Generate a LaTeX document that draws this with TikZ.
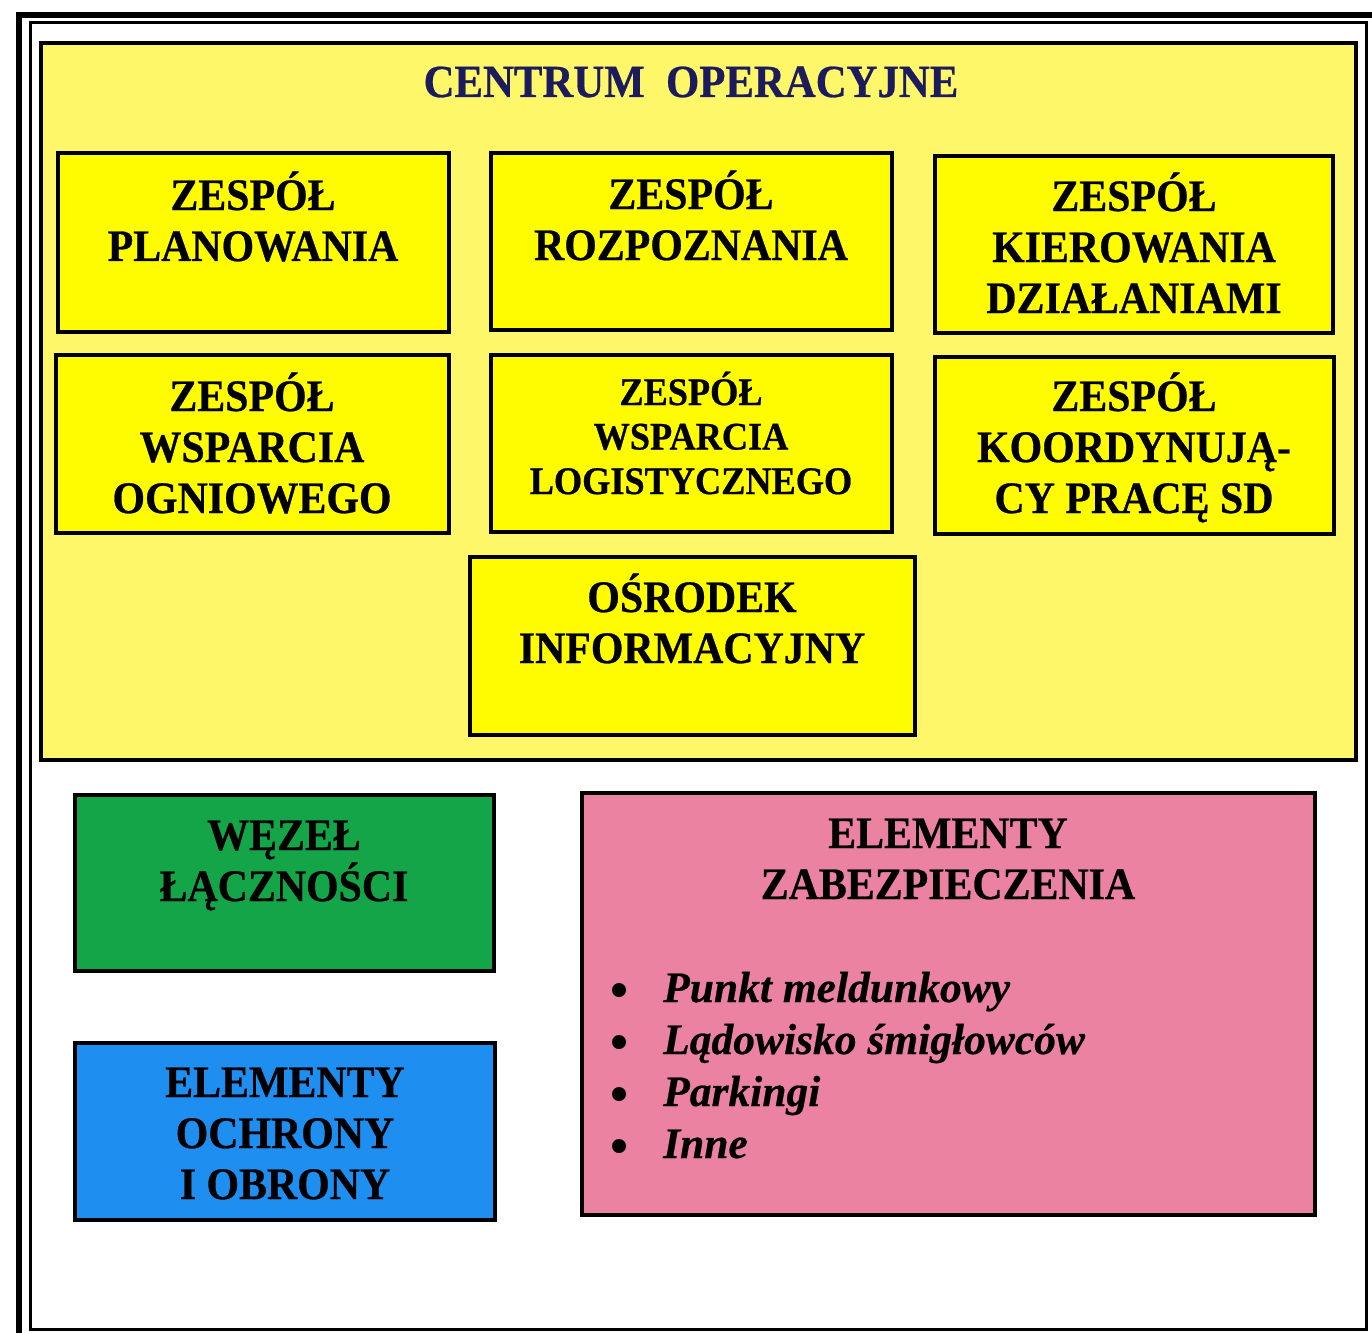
\documentclass[tikz,border=0pt]{standalone}
\usepackage{fontspec}
\setmainfont{Liberation Serif}
\newfontfamily\boxfont{Liberation Serif}[FakeStretch=0.93, FakeBold=0.6]
\newfontfamily\itemfont{Liberation Serif}[FakeBold=0.5]
\definecolor{paleyellow}{HTML}{FFF76A}
\definecolor{boxyellow}{HTML}{FFFC00}
\definecolor{linkgreen}{HTML}{14A548}
\definecolor{guardblue}{HTML}{1E8EF0}
\definecolor{securepink}{HTML}{EB82A2}
\definecolor{titlenavy}{HTML}{1B1B5E}
\begin{document}
\begin{tikzpicture}[x=1pt,y=-1pt,
  unitbox/.style={draw=black, line width=3.5pt, fill=#1, rectangle, inner sep=0pt},
  unitbox/.default=boxyellow,
  % multi-line labels are anchored on the baseline of their last line
  boxtext/.style={font=\boxfont\bfseries\fontsize{45}{51}\selectfont, align=center, anchor=base, inner sep=0pt},
  smalltext/.style={font=\boxfont\bfseries\fontsize{39}{44.5}\selectfont, align=center, anchor=base, inner sep=0pt},
  itemtext/.style={font=\itemfont\bfseries\itshape\fontsize{43.5}{52}\selectfont, anchor=base west, inner sep=0pt},
  bulletmark/.style={circle, fill=black, inner sep=0pt, minimum size=14pt}
]
\useasboundingbox (0,0) rectangle (1372,1332);
\fill[white] (0,0) rectangle (1372,1332);
\clip (0,0) rectangle (1372,1332);

% page frames
\draw[line width=6pt] (19,15) rectangle (1385,1345);
\draw[line width=3pt] (30,23) rectangle (1366,1329);

% operations centre area
\draw[line width=3.5pt, fill=paleyellow] (41,43) rectangle (1356,760);
\node[font=\boxfont\bfseries\fontsize{46}{52}\selectfont, text=titlenavy, anchor=base, inner sep=0pt] (title) at (691,97) {CENTRUM\ \ OPERACYJNE};

% team boxes
\path[unitbox] (58,153) rectangle (449,332);
\path[unitbox] (491,153) rectangle (892,330);
\path[unitbox] (935,156) rectangle (1333,333);
\path[unitbox] (56,355) rectangle (449,533);
\path[unitbox] (491,355) rectangle (892,532);
\path[unitbox] (935,357) rectangle (1334,534);
\path[unitbox] (470,557) rectangle (915,735);

\node[boxtext] (plan) at (253,261) {ZESPÓŁ\\PLANOWANIA};
\node[boxtext] (rozp) at (691,260) {ZESPÓŁ\\ROZPOZNANIA};
\node[boxtext] (kier) at (1134,313) {ZESPÓŁ\\KIEROWANIA\\DZIAŁANIAMI};
\node[boxtext] (ogn) at (252,513) {ZESPÓŁ\\WSPARCIA\\OGNIOWEGO};
\node[smalltext] (log) at (691,494) {ZESPÓŁ\\WSPARCIA\\LOGISTYCZNEGO};
\node[boxtext] (koord) at (1134,513) {ZESPÓŁ\\KOORDYNUJĄ-\\CY PRACĘ SD};
\node[boxtext] (osr) at (692,663) {OŚRODEK\\INFORMACYJNY};

% support elements
\path[unitbox=linkgreen] (75,795) rectangle (494,971);
\node[boxtext] (wezel) at (284,901) {WĘZEŁ\\ŁĄCZNOŚCI};

\path[unitbox=guardblue] (75,1043) rectangle (495,1220);
\node[boxtext] (ochr) at (285,1199) {ELEMENTY\\OCHRONY\\I OBRONY};

\path[unitbox=securepink] (582,793) rectangle (1315,1215);
\node[boxtext] (zab) at (948,899) {ELEMENTY\\ZABEZPIECZENIA};

\foreach \y/\txt [count=\i] in {1002/Punkt meldunkowy, 1054/Lądowisko śmigłowców, 1106/Parkingi, 1158/Inne} {
  \node[bulletmark] (dot\i) at (619,\y-12) {};
  \node[itemtext] (item\i) at (663,\y) {\txt};
}
\end{tikzpicture}
\end{document}
